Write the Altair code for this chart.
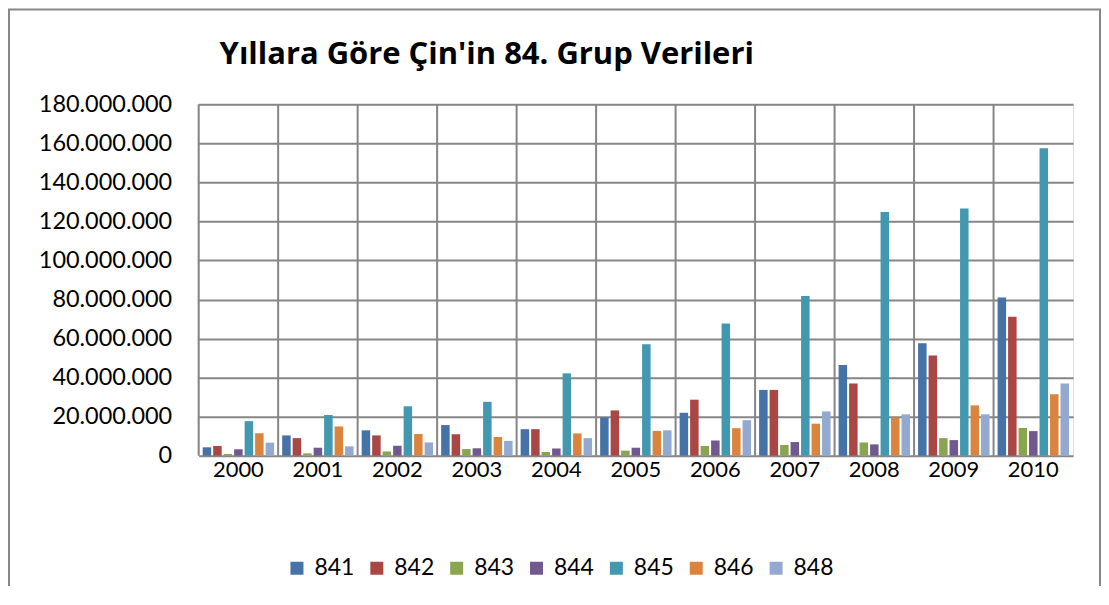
import altair as alt
import pandas as pd

years = ["2000", "2001", "2002", "2003", "2004", "2005", "2006", "2007", "2008", "2009", "2010"]
series = ["841", "842", "843", "844", "845", "846", "848"]
colors = ["#4572A7", "#AA4643", "#89A54E", "#71588F", "#4198AF", "#DB843D", "#93A9CF"]

s841 = [4.3e6, 10.4e6, 13.0e6, 15.7e6, 13.6e6, 19.6e6, 22.0e6, 33.7e6, 46.5e6, 57.6e6, 81.1e6]
s842 = [5.0e6, 9.0e6, 10.4e6, 11.0e6, 13.6e6, 23.2e6, 28.7e6, 33.7e6, 37.0e6, 51.3e6, 71.2e6]
s843 = [0.9e6, 1.2e6, 2.2e6, 3.4e6, 1.9e6, 2.6e6, 5.0e6, 5.5e6, 6.8e6, 9.0e6, 14.2e6]
s844 = [3.3e6, 4.1e6, 5.1e6, 3.8e6, 3.7e6, 4.1e6, 7.8e6, 7.0e6, 5.8e6, 8.0e6, 12.6e6]
s845 = [17.7e6, 20.8e6, 25.3e6, 27.6e6, 42.2e6, 57.1e6, 67.7e6, 81.8e6, 124.8e6, 126.6e6, 157.5e6]
s846 = [11.5e6, 15.0e6, 11.1e6, 9.6e6, 11.4e6, 12.7e6, 14.1e6, 16.4e6, 19.6e6, 25.8e6, 31.5e6]
s848 = [6.7e6, 4.8e6, 6.8e6, 7.6e6, 9.0e6, 13.0e6, 18.2e6, 22.7e6, 21.2e6, 21.2e6, 37.0e6]

title_text = "Yıllara Göre Çin'in 84. Grup Verileri"
y_ticks = [0, 20e6, 40e6, 60e6, 80e6, 100e6, 120e6, 140e6, 160e6, 180e6]

all_series = [s841, s842, s843, s844, s845, s846, s848]
rows = []
for name, vals in zip(series, all_series):
    for yr, v in zip(years, vals):
        rows.append({"year": yr, "series": name, "value": v})
df = pd.DataFrame(rows)
year_df = pd.DataFrame({"year": years})
one = pd.DataFrame({"t": [title_text]})

FONT = "Lato"
GRID = "#868686"
W, H = 876, 352

x_axis = alt.Axis(labelAngle=0, ticks=False, domain=False, grid=False,
                  labelFont=FONT, labelFontSize=22, labelColor="#000000",
                  labelPadding=4)
x_scale = alt.Scale(paddingInner=0, paddingOuter=0)

frame = alt.Chart(one).mark_rect(
    filled=False, stroke="#878787", strokeWidth=2
).encode(
    x=alt.value(-190), x2=alt.value(903), y=alt.value(-95), y2=alt.value(700)
)

title = alt.Chart(one).mark_text(
    font="Open Sans", fontSize=31, fontWeight="bold", color="#000000",
    align="left", baseline="alphabetic"
).encode(x=alt.value(21), y=alt.value(-40), text="t:N")

vrules = alt.Chart(year_df).mark_rule(color=GRID, strokeWidth=2).encode(
    x=alt.X("year:N", sort=years, bandPosition=0, title=None, scale=x_scale, axis=x_axis),
    y=alt.value(0), y2=alt.value(H)
)

bars = alt.Chart(df).mark_bar().encode(
    x=alt.X("year:N", sort=years, title=None, scale=x_scale, axis=x_axis),
    xOffset=alt.XOffset("series:N", sort=series,
                        scale=alt.Scale(paddingInner=0.19, paddingOuter=0.385)),
    y=alt.Y("value:Q", title=None,
            scale=alt.Scale(domain=[0, 180e6], nice=False),
            axis=alt.Axis(values=y_ticks, ticks=False, domain=False, grid=True,
                          gridColor=GRID, gridWidth=2, gridOpacity=1,
                          labelFont=FONT, labelFontSize=23.5, labelColor="#000000",
                          labelPadding=27,
                          labelExpr="replace(format(datum.value, ','), regexp(',', 'g'), '.')")),
    color=alt.Color("series:N", sort=series, title=None,
                    scale=alt.Scale(domain=series, range=colors),
                    legend=alt.Legend(orient="none", legendX=87, legendY=453,
                                      direction="horizontal", symbolType="square",
                                      symbolSize=169, symbolStrokeWidth=0,
                                      labelFont=FONT, labelFontSize=23,
                                      labelColor="#000000", labelOffset=6,
                                      columnPadding=10, padding=0))
)

chart = alt.layer(frame, vrules, bars, title).properties(
    width=W, height=H,
    autosize=alt.AutoSizeParams(type="none"),
    padding={"left": 191, "top": 96, "right": 28, "bottom": 130},
).configure_view(stroke=GRID, strokeWidth=2).configure(background="white")

chart.save("out.html", embed_options={"renderer": "svg", "actions": False})
